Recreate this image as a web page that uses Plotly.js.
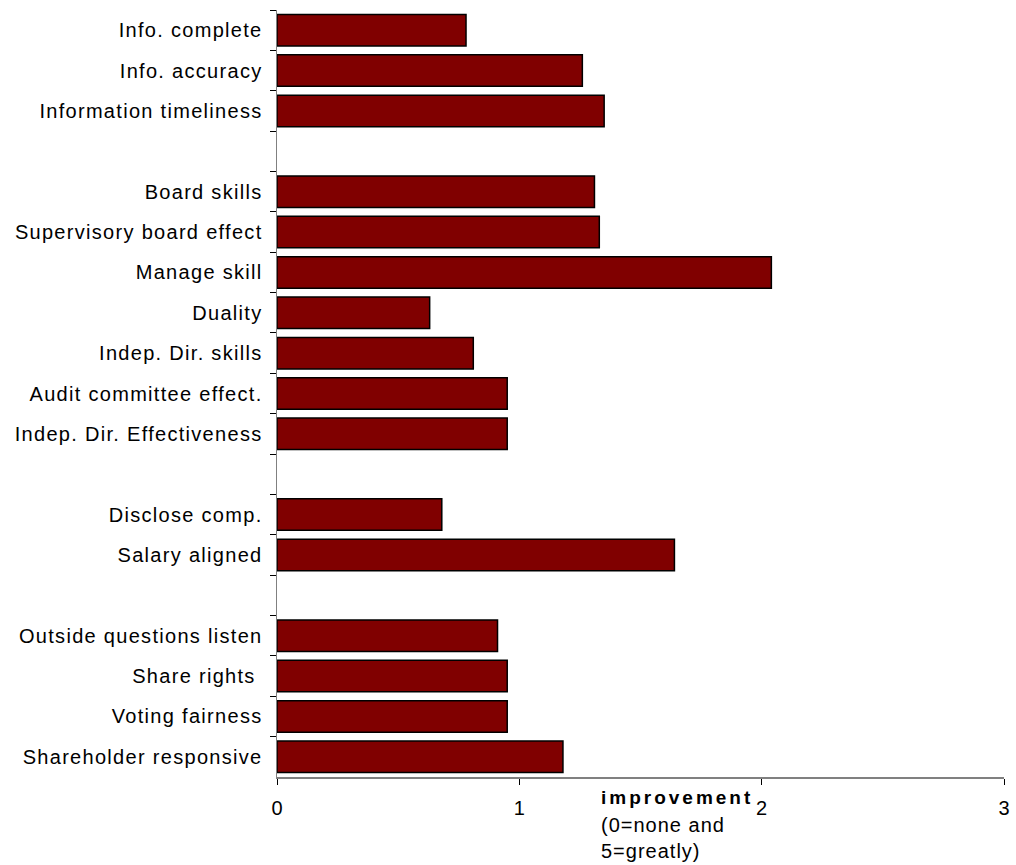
<!DOCTYPE html>
<html>
<head>
<meta charset="utf-8">
<script src="https://cdn.plot.ly/plotly-3.0.1.min.js"></script>
<style>
  html, body { margin: 0; padding: 0; background: #fff; }
  #chart { width: 1016px; height: 865px; }
  #chart .ytick text { letter-spacing: 1.3px; }
  #chart .xtick text { letter-spacing: 0px; }
  #chart .annotation-text { letter-spacing: 1px; }
</style>
</head>
<body>
<div id="chart"></div>
<script>
// Categories, top to bottom (blank strings are the empty gap rows)
const categories = [
  "Info. complete",
  "Info. accuracy",
  "Information timeliness",
  " ",
  "Board skills",
  "Supervisory board effect",
  "Manage skill",
  "Duality",
  "Indep. Dir. skills",
  "Audit committee effect.",
  "Indep. Dir. Effectiveness",
  "  ",
  "Disclose comp.",
  "Salary aligned",
  "   ",
  "Outside questions listen",
  "Share rights ",
  "Voting fairness",
  "Shareholder responsive"
];
const improvement = [
  0.78, 1.26, 1.35, null,
  1.31, 1.33, 2.04, 0.63, 0.81, 0.95, 0.95, null,
  0.68, 1.64, null,
  0.91, 0.95, 0.95, 1.18
];
const xTickValues = [0, 1, 2, 3];
const xTickLabels = ["0", "1", "2", "3"];

const FONT = "Liberation Sans, Arial, sans-serif";

const trace = {
  type: "bar",
  orientation: "h",
  y: categories,
  x: improvement,
  marker: { color: "#800000", line: { color: "#000000", width: 1.5 } },
  hoverinfo: "x+y"
};

const layout = {
  width: 1016,
  height: 865,
  margin: { l: 277, r: 12, t: 10, b: 88 },
  paper_bgcolor: "#ffffff",
  plot_bgcolor: "#ffffff",
  showlegend: false,
  bargap: 0.22,
  font: { family: FONT, size: 20, color: "#000000" },
  xaxis: {
    range: [0, 3],
    tickvals: xTickValues,
    ticktext: xTickLabels,
    ticks: "outside",
    ticklen: 6,
    tickcolor: "#000000",
    showgrid: false,
    zeroline: false,
    showline: true,
    linecolor: "#808080",
    linewidth: 2,
    tickfont: { family: FONT, size: 20, color: "#000000" },
    ticklabelstandoff: 6,
    fixedrange: true
  },
  yaxis: {
    type: "category",
    categoryorder: "array",
    categoryarray: categories,
    autorange: "reversed",
    tickson: "boundaries",
    ticks: "outside",
    ticklen: 6,
    tickcolor: "#000000",
    showgrid: false,
    zeroline: false,
    showline: true,
    linecolor: "#808080",
    linewidth: 1.5,
    tickfont: { family: FONT, size: 20, color: "#000000" },
    ticklabelstandoff: 9,
    fixedrange: true
  },
  annotations: [
    {
      xref: "paper", yref: "paper",
      x: 0.443, y: -0.010,
      xanchor: "left", yanchor: "top",
      align: "left",
      showarrow: false,
      text: "<span style=\"letter-spacing:3px\"><b>improvement</b></span>",
      font: { family: FONT, size: 19, color: "#000000" }
    },
    {
      xref: "paper", yref: "paper",
      x: 0.443, y: -0.045,
      xanchor: "left", yanchor: "top",
      align: "left",
      showarrow: false,
      text: "(0=none and",
      font: { family: FONT, size: 20, color: "#000000" }
    },
    {
      xref: "paper", yref: "paper",
      x: 0.443, y: -0.079,
      xanchor: "left", yanchor: "top",
      align: "left",
      showarrow: false,
      text: "5=greatly)",
      font: { family: FONT, size: 20, color: "#000000" }
    }
  ]
};

Plotly.newPlot("chart", [trace], layout, { displayModeBar: false, staticPlot: true });
</script>
</body>
</html>
